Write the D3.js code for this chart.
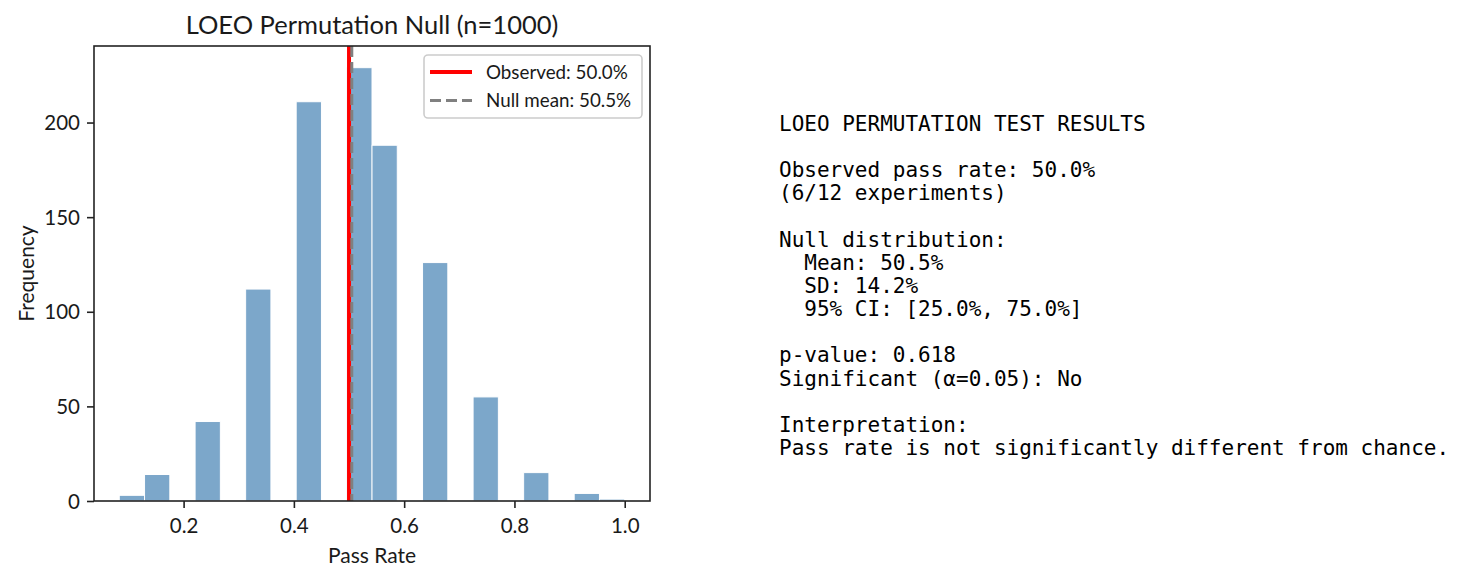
<!DOCTYPE html>
<html>
<head>
<meta charset="utf-8">
<script src="https://cdn.jsdelivr.net/npm/d3@7"></script>
<style>
  html, body { margin: 0; padding: 0; background: #ffffff; }
  svg { display: block; }
  text { font-family: Lato, "Noto Sans", sans-serif; fill: #1a1a1a; }
  .mono { font-family: "DejaVu Sans Mono", monospace; fill: #000; }
</style>
</head>
<body>
<svg id="chart" width="1462" height="583"></svg>
<script>
// ---- data ----
const binStart = 1 / 12;          // lowest permuted pass rate (1/12)
const binEnd = 1.0;               // highest permuted pass rate (12/12)
const binCounts = [3, 14, 0, 42, 0, 112, 0, 211, 0, 229, 188, 0, 126, 0, 55, 0, 15, 0, 4, 1];
const observedRate = 0.500;
const nullMean = 0.505;
const xTickValues = [0.2, 0.4, 0.6, 0.8, 1.0];
const xTickLabels = ["0.2", "0.4", "0.6", "0.8", "1.0"];
const yTickValues = [0, 50, 100, 150, 200];
const yTickLabels = ["0", "50", "100", "150", "200"];
const legendLabels = ["Observed: 50.0%", "Null mean: 50.5%"];
const titleText = "LOEO Permutation Null (n=1000)";
const xLabelText = "Pass Rate";
const yLabelText = "Frequency";
const summaryLines = [
  "LOEO PERMUTATION TEST RESULTS",
  "",
  "Observed pass rate: 50.0%",
  "(6/12 experiments)",
  "",
  "Null distribution:",
  "  Mean: 50.5%",
  "  SD: 14.2%",
  "  95% CI: [25.0%, 75.0%]",
  "",
  "p-value: 0.618",
  "Significant (\u03b1=0.05): No",
  "",
  "Interpretation:",
  "Pass rate is not significantly different from chance."
];

// ---- layout ----
const svg = d3.select("#chart");
const L = 94, R = 650, T = 46, B = 501;
const nBins = binCounts.length;
const binW = (binEnd - binStart) / nBins;
const bins = binCounts.map((c, i) => ({ x0: binStart + i * binW, x1: binStart + (i + 1) * binW, count: c }));

const span = binEnd - binStart;
const x = d3.scaleLinear().domain([binStart - 0.05 * span, binEnd + 0.05 * span]).range([L, R]);
const y = d3.scaleLinear().domain([0, d3.max(binCounts) * 1.05]).range([B, T]);

// clip
svg.append("defs").append("clipPath").attr("id", "plotclip")
  .append("rect").attr("x", L).attr("y", T).attr("width", R - L).attr("height", B - T);

const plot = svg.append("g").attr("clip-path", "url(#plotclip)");

// bars
plot.selectAll("rect.bar").data(bins.filter(d => d.count > 0)).enter().append("rect")
  .attr("class", "bar")
  .attr("x", d => x(d.x0))
  .attr("width", d => x(d.x1) - x(d.x0))
  .attr("y", d => y(d.count))
  .attr("height", d => y(0) - y(d.count))
  .attr("fill", "steelblue")
  .attr("stroke", "white")
  .attr("stroke-width", 1)
  .attr("opacity", 0.7);

// observed line
plot.append("line")
  .attr("x1", x(observedRate)).attr("x2", x(observedRate))
  .attr("y1", T).attr("y2", B)
  .attr("stroke", "#ff0000").attr("stroke-width", 4);

// null mean line
plot.append("line")
  .attr("x1", x(nullMean)).attr("x2", x(nullMean))
  .attr("y1", T).attr("y2", B)
  .attr("stroke", "#808080").attr("stroke-width", 3)
  .attr("stroke-dasharray", "11,5");

// axes
const xAxis = d3.axisBottom(x).tickValues(xTickValues)
  .tickFormat((d, i) => xTickLabels[i]).tickSize(7).tickSizeOuter(0);
const gx = svg.append("g").attr("transform", `translate(0,${B})`).call(xAxis);
gx.select(".domain").remove();
gx.selectAll(".tick line").attr("stroke", "#222").attr("stroke-width", 1.6);
gx.selectAll(".tick text").attr("y", 32).attr("dy", 0)
  .style("font-family", "Lato, 'Noto Sans', sans-serif").style("font-size", "20.5px").attr("fill", "#1a1a1a");

const yAxis = d3.axisLeft(y).tickValues(yTickValues)
  .tickFormat((d, i) => yTickLabels[i]).tickSize(7).tickSizeOuter(0);
const gy = svg.append("g").attr("transform", `translate(${L},0)`).call(yAxis);
gy.select(".domain").remove();
gy.selectAll(".tick line").attr("stroke", "#222").attr("stroke-width", 1.6);
gy.selectAll(".tick text").attr("x", -14).attr("dy", "0.35em")
  .style("font-family", "Lato, 'Noto Sans', sans-serif").style("font-size", "20.5px").attr("fill", "#1a1a1a");

// frame
svg.append("rect").attr("x", L).attr("y", T).attr("width", R - L).attr("height", B - T)
  .attr("fill", "none").attr("stroke", "#222").attr("stroke-width", 1.6);

// title & labels
svg.append("text").attr("x", (L + R) / 2).attr("y", 34).attr("text-anchor", "middle")
  .style("font-size", "25.5px").text(titleText);
svg.append("text").attr("x", (L + R) / 2).attr("y", 563).attr("text-anchor", "middle")
  .style("font-size", "21px").text(xLabelText);
svg.append("text").attr("transform", `translate(34,${(T + B) / 2}) rotate(-90)`)
  .attr("text-anchor", "middle").style("font-size", "21px").text(yLabelText);

// legend
const lg = svg.append("g");
lg.append("rect").attr("x", 424).attr("y", 55).attr("width", 218).attr("height", 63)
  .attr("rx", 4).attr("fill", "white").attr("fill-opacity", 0.8)
  .attr("stroke", "#cccccc").attr("stroke-width", 1.6);
const legendStyles = [
  { color: "#ff0000", width: 4, dash: null },
  { color: "#808080", width: 3, dash: "11,5" }
];
legendLabels.forEach((lab, i) => {
  const cy = 72 + i * 28.5;
  const ln = lg.append("line").attr("x1", 430).attr("x2", 472).attr("y1", cy).attr("y2", cy)
    .attr("stroke", legendStyles[i].color).attr("stroke-width", legendStyles[i].width);
  if (legendStyles[i].dash) ln.attr("stroke-dasharray", legendStyles[i].dash);
  lg.append("text").attr("x", 486).attr("y", cy).attr("dy", "0.35em")
    .style("font-size", "18.8px").text(lab);
});

// summary text
const tg = svg.append("g");
summaryLines.forEach((s, i) => {
  tg.append("text").attr("class", "mono").attr("x", 779).attr("y", 131 + i * 23.14)
    .style("font-size", "21px").attr("xml:space", "preserve").style("white-space", "pre").text(s);
});
</script>
</body>
</html>
